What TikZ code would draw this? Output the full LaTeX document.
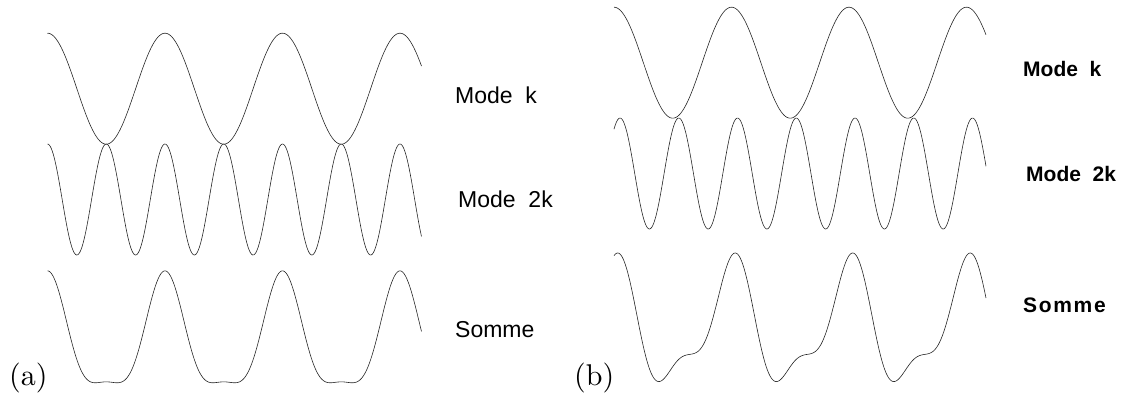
\documentclass[tikz,border=0pt]{standalone}
\usepackage{fontspec}
\newfontfamily\labfont{Liberation Sans}
\newfontfamily\tagfont{lmroman10-regular.otf}
\begin{document}
\begin{tikzpicture}[x=1pt,y=-1pt,
  curve/.style={line width=0.6pt, black!85},
  lab/.style={anchor=base west, inner sep=0pt, font=\labfont\fontsize{23}{23}\selectfont},
  labb/.style={anchor=base west, inner sep=0pt, font=\labfont\bfseries\fontsize{21}{21}\selectfont},
  tag/.style={anchor=base west, inner sep=0pt, font=\tagfont\fontsize{30}{30}\selectfont}]
\useasboundingbox (0,0) rectangle (1125,396);
% ---------- panel (a) ----------
\draw[curve] plot[domain=47.5:421.5, samples=300, variable=\t]
  (\t, {88.7-55.5*cos((\t-47.5)*3.06383)});
\draw[curve] plot[domain=47.5:421.5, samples=400, variable=\t]
  (\t, {199.5-55.5*cos(2*(\t-47.5)*3.06383)});
\draw[curve] plot[domain=47.5:421.5, samples=400, variable=\t]
  (\t, {343-55.5*(cos((\t-47.5)*3.06383)+0.3*cos(2*(\t-47.5)*3.06383))});
\node[lab] (ak) at (455,103) {Mode~~k};
\node[lab] (a2k) at (458,207) {Mode~~2k};
\node[lab] (as) at (455,337) {Somme};
\node[tag] (ta) at (9,385) {(a)};
% ---------- panel (b) ----------
\draw[curve] plot[domain=614:986, samples=300, variable=\t]
  (\t, {62.7-55.5*cos((\t-614)*3.06383)});
\draw[curve] plot[domain=614:986, samples=400, variable=\t]
  (\t, {173.5-55.5*cos(2*(\t-614)*3.06383-37)});
\draw[curve] plot[domain=614:986, samples=400, variable=\t]
  (\t, {328.9-55.5*(cos((\t-614)*3.06383)+0.4*cos(2*(\t-614)*3.06383-37))});
\node[labb] (bk) at (1023,77) {Mode~~k};
\node[labb] (b2k) at (1026,181) {Mode~~2k};
\node[labb] (bs) at (1023,312) {\addfontfeature{LetterSpace=8}Somme};
\node[tag] (tb) at (574,385) {(b)};
\end{tikzpicture}
\end{document}
